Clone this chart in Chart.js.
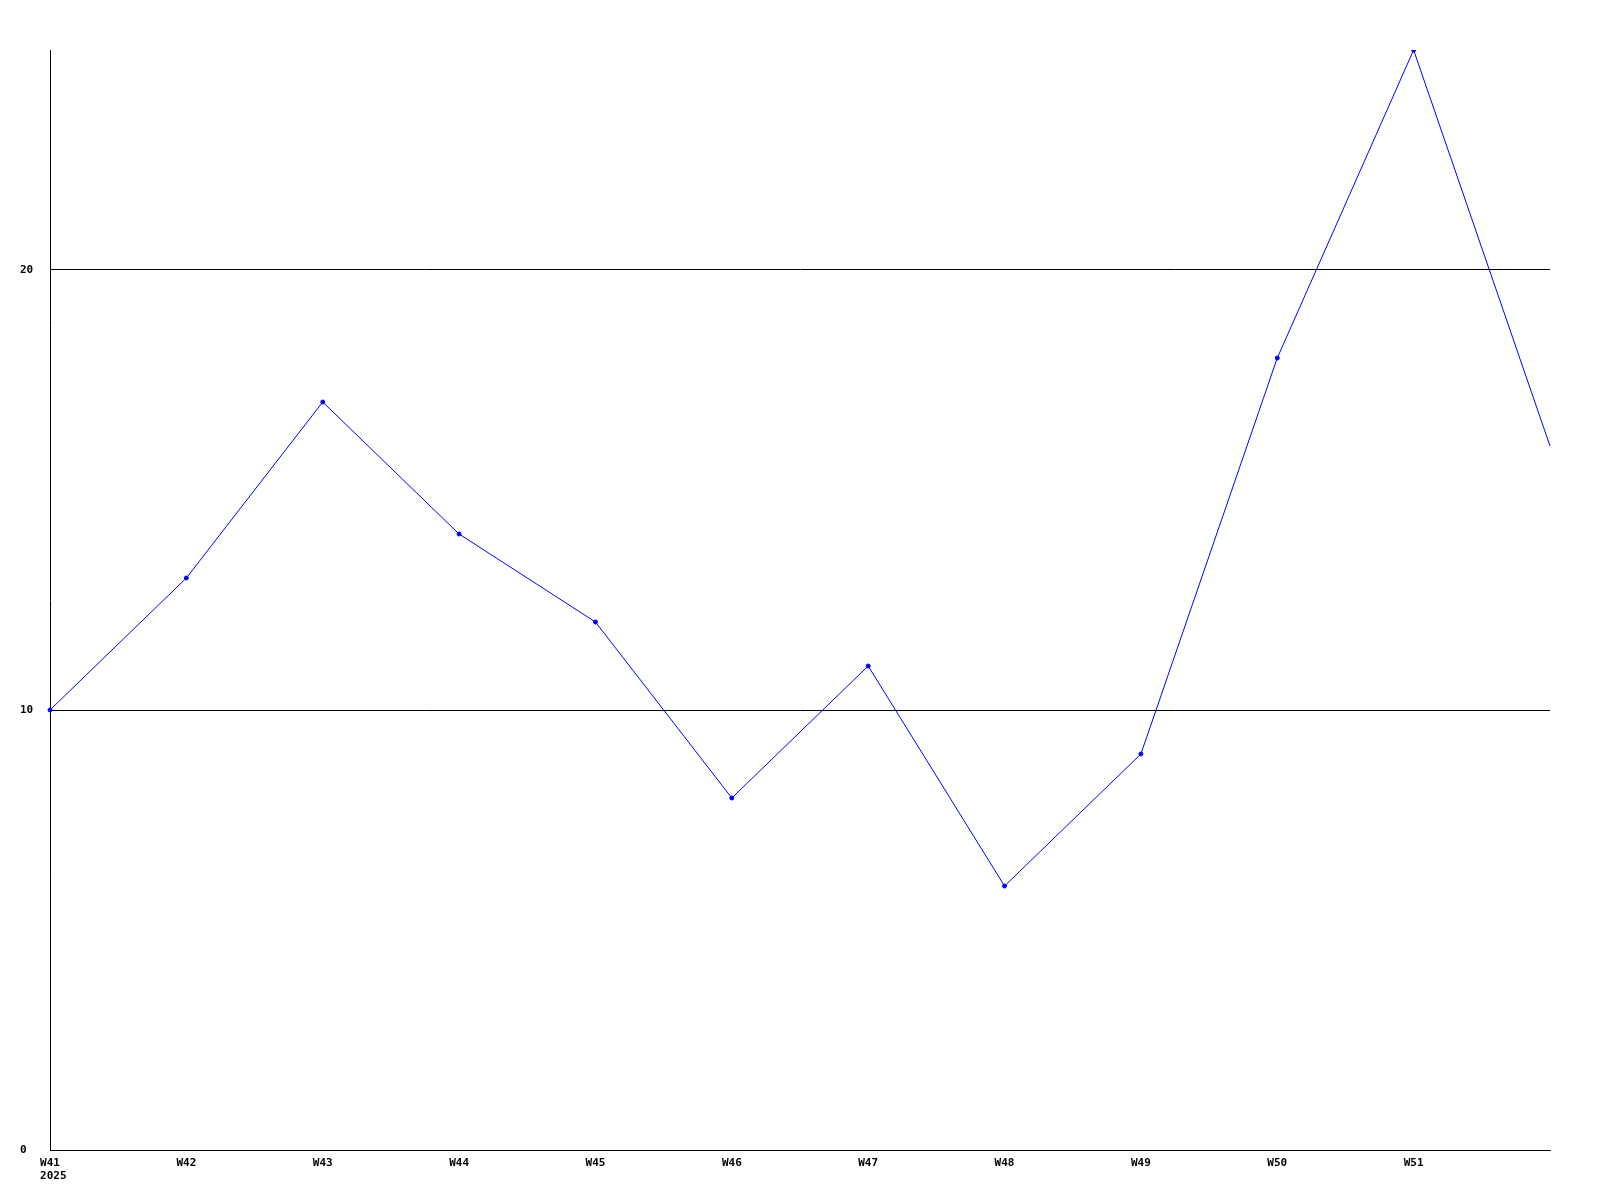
<!DOCTYPE html>
<html>
<head>
<meta charset="utf-8">
<script src="https://cdn.jsdelivr.net/npm/chart.js@4"></script>
<style>
  html, body { margin: 0; padding: 0; background: #ffffff; }
  canvas { display: block; }
</style>
</head>
<body>
<canvas id="chart" width="1600" height="1200"></canvas>
<script>
// Datos del gráfico
const weeks = ["W41", "W42", "W43", "W44", "W45", "W46", "W47", "W48", "W49", "W50", "W51", "W52"];
const weekTickLabels = ["W41", "W42", "W43", "W44", "W45", "W46", "W47", "W48", "W49", "W50", "W51"];
const yearLabel = "2025";
const values = [10, 13, 17, 14, 12, 8, 11, 6, 9, 18, 25, 16];
const yTicks = [0, 10, 20];

const FONT = { family: "'DejaVu Sans Mono', monospace", size: 11, weight: "bold", lineHeight: 1.3 };
const FONT_CSS = "bold 11px 'DejaVu Sans Mono', monospace";

// Año bajo la primera semana, alineado a la izquierda con su etiqueta
const yearPlugin = {
  id: "yearLabel",
  afterDraw(chart) {
    const x = chart.scales.x;
    const c = chart.ctx;
    c.save();
    c.font = FONT_CSS;
    c.fillStyle = "#000000";
    c.textAlign = "left";
    c.textBaseline = "top";
    const w = c.measureText(weekTickLabels[0]).width;
    c.fillText(yearLabel, x.getPixelForTick(0) - w / 2, x.top + 6 + 15);
    c.restore();
  },
};

const ctx = document.getElementById("chart").getContext("2d");
new Chart(ctx, {
  type: "line",
  data: {
    labels: weeks,
    datasets: [
      {
        data: values,
        borderColor: "#0000ff",
        backgroundColor: "#0000ff",
        borderWidth: 1,
        tension: 0,
        fill: false,
        pointStyle: "circle",
        pointRadius: (c) => (c.dataIndex === values.length - 1 ? 0 : 2),
        pointBorderWidth: 1,
        pointBorderColor: "#0000ff",
        pointBackgroundColor: "#0000ff",
      },
    ],
  },
  options: {
    responsive: false,
    animation: false,
    layout: { padding: { left: 20, right: 50, top: 50, bottom: 0 } },
    plugins: { legend: { display: false }, tooltip: { enabled: false } },
    scales: {
      x: {
        type: "category",
        offset: false,
        grid: { drawOnChartArea: false, drawTicks: false },
        border: { display: true, color: "#000000", width: 1 },
        ticks: {
          color: "#000000",
          font: FONT,
          padding: 6,
          maxRotation: 0,
          autoSkip: false,
          callback: function (value, index) {
            return index < weekTickLabels.length ? weekTickLabels[index] : "";
          },
        },
        afterFit: function (scale) {
          scale.height = 50;
        },
      },
      y: {
        min: 0,
        max: 25,
        afterBuildTicks: function (scale) {
          scale.ticks = yTicks.map((v) => ({ value: v }));
        },
        grid: { color: "#000000", lineWidth: 1, drawTicks: false },
        border: { display: true, color: "#000000", width: 1 },
        ticks: {
          color: "#000000",
          font: FONT,
          crossAlign: "far",
          padding: 0,
        },
        afterFit: function (scale) {
          scale.width = 30;
        },
      },
    },
  },
  plugins: [yearPlugin],
});
</script>
</body>
</html>
